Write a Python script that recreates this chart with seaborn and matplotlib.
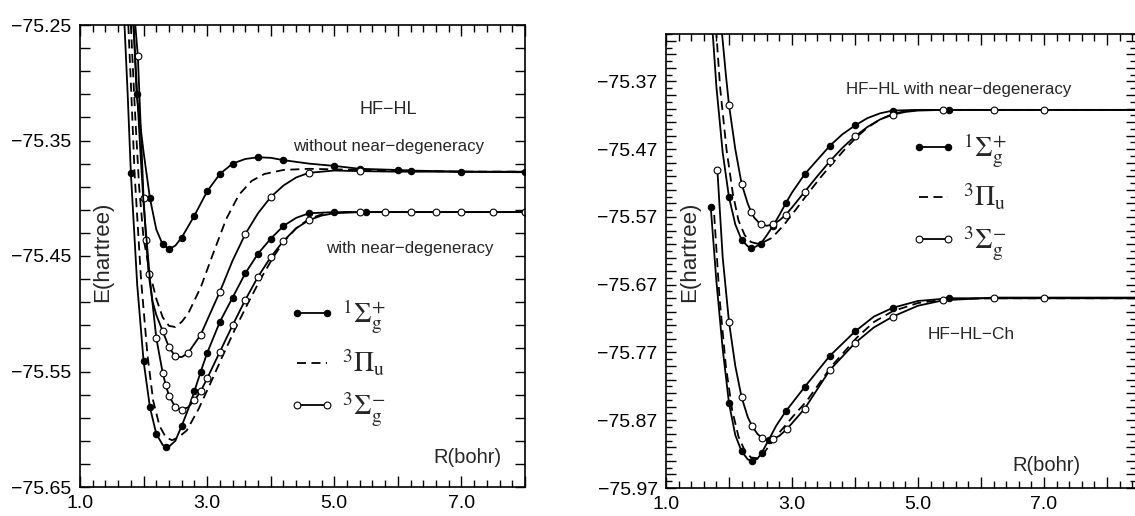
import matplotlib
matplotlib.use("Agg")
import numpy as np
import matplotlib.pyplot as plt
from matplotlib.lines import Line2D
from matplotlib.ticker import FixedLocator, FuncFormatter
import seaborn as sns

# ---------------- data (R in bohr, E in hartree) ----------------
# HF-HL without near-degeneracy
r_s1_a = [1.845, 1.89, 2.0, 2.1, 2.2, 2.3, 2.4, 2.5, 2.6, 2.8, 3.0, 3.2, 3.4, 3.6, 3.8, 4.0, 4.2, 4.6, 5.0, 5.4, 6.0, 6.2, 7.0, 8.0]
e_s1_a = [-75.25, -75.31, -75.36, -75.40, -75.427, -75.440, -75.444, -75.441, -75.434, -75.415, -75.394, -75.379, -75.370,
          -75.366, -75.3645, -75.365, -75.367, -75.370, -75.372, -75.3745, -75.3755, -75.376, -75.377, -75.3775]
m_s1_a = [1.89, 2.1, 2.3, 2.4, 2.6, 2.8, 3.0, 3.2, 3.4, 3.8, 4.2, 5.0, 5.4, 6.0, 6.2, 7.0, 8.0]

r_p_a = [1.80, 1.86, 1.93, 2.0, 2.1, 2.2, 2.3, 2.4, 2.5, 2.6, 2.7, 2.9, 3.1, 3.3, 3.5, 3.7, 3.9, 4.2, 4.6, 5.0, 6.0, 7.0, 8.0]
e_p_a = [-75.25, -75.32, -75.39, -75.435, -75.465, -75.487, -75.503, -75.5105, -75.5115, -75.507, -75.500, -75.477,
         -75.447, -75.418, -75.397, -75.385, -75.379, -75.3755, -75.3745, -75.375, -75.376, -75.377, -75.377]

r_s3_a = [1.87, 1.91, 1.96, 2.0, 2.04, 2.08, 2.14, 2.2, 2.3, 2.4, 2.5, 2.6, 2.7, 2.9, 3.2, 3.4, 3.6, 3.8, 4.0, 4.2, 4.4,
          4.6, 5.0, 5.4, 6.0, 7.0, 8.0]
e_s3_a = [-75.25, -75.277, -75.345, -75.40, -75.436, -75.466, -75.489, -75.501, -75.515, -75.529, -75.537, -75.5375,
          -75.534, -75.518, -75.481, -75.454, -75.431, -75.413, -75.399, -75.389, -75.382, -75.378, -75.376, -75.3765,
          -75.377, -75.377, -75.377]
m_s3_a = [1.91, 2.0, 2.04, 2.08, 2.3, 2.4, 2.5, 2.7, 2.9, 3.2, 3.6, 4.0, 4.6, 5.4]

# HF-HL with near-degeneracy (both panels)
r_s1_b = [1.70, 1.75, 1.80, 1.90, 2.0, 2.1, 2.2, 2.3, 2.35, 2.4, 2.5, 2.6, 2.7, 2.8, 2.9, 3.0, 3.2, 3.4, 3.6, 3.8, 4.0,
          4.2, 4.4, 4.6, 5.0, 5.5, 6.2, 7.0, 8.0, 8.5]
e_s1_b = [-75.25, -75.31, -75.378, -75.475, -75.541, -75.581, -75.604, -75.6135, -75.6155, -75.615, -75.610, -75.597,
          -75.583, -75.567, -75.550, -75.534, -75.507, -75.486, -75.465, -75.448, -75.435, -75.424, -75.417, -75.413,
          -75.412, -75.412, -75.412, -75.412, -75.412, -75.412]
m_s1_b_left = [1.80, 2.0, 2.1, 2.2, 2.35, 2.6, 2.8, 2.9, 3.0, 3.2, 3.4, 3.6, 3.8, 4.0, 4.2, 4.6, 5.0, 5.5, 8.0]
m_s1_b_right = [2.0, 2.2, 2.35, 2.5, 2.7, 2.9, 3.2, 3.6, 4.0, 4.6, 5.5]

r_p_b = [1.76, 1.80, 1.86, 1.96, 2.06, 2.15, 2.25, 2.35, 2.45, 2.55, 2.68, 2.87, 3.07, 3.24, 3.45, 3.65, 3.84, 4.04,
         4.2, 4.4, 4.6, 4.8, 5.0, 6.0, 7.0, 8.0, 8.5]
e_p_b = [-75.25, -75.30, -75.38, -75.47, -75.535, -75.575, -75.597, -75.607, -75.6095, -75.607, -75.601, -75.582,
         -75.558, -75.537, -75.512, -75.490, -75.470, -75.451, -75.438, -75.426, -75.418, -75.414, -75.412, -75.412,
         -75.412, -75.412, -75.412]

r_s3_b = [1.84, 1.89, 1.95, 2.0, 2.1, 2.2, 2.3, 2.35, 2.4, 2.5, 2.6, 2.7, 2.8, 2.9, 3.0, 3.2, 3.4, 3.6, 3.8, 4.0, 4.2,
          4.4, 4.6, 4.8, 5.0, 5.4, 5.8, 6.2, 6.6, 7.0, 7.5, 8.0, 8.5]
e_s3_b = [-75.25, -75.30, -75.36, -75.405, -75.47, -75.521, -75.551, -75.562, -75.571, -75.581, -75.583, -75.581,
          -75.575, -75.567, -75.556, -75.533, -75.510, -75.488, -75.468, -75.451, -75.437, -75.426, -75.419, -75.415,
          -75.413, -75.412, -75.412, -75.412, -75.412, -75.412, -75.412, -75.412, -75.412]
m_s3_b_left = [2.2, 2.3, 2.35, 2.4, 2.5, 2.6, 2.8, 2.9, 3.0, 3.2, 3.4, 3.6, 3.8, 4.0, 4.2, 4.6, 5.4, 5.8, 6.2, 6.6,
               7.0, 7.5, 8.0]
m_s3_b_right = [2.0, 2.2, 2.35, 2.5, 2.7, 2.9, 3.2, 3.6, 4.0, 4.6, 5.4, 6.2, 7.0]

# HF-HL-Ch
r_s1_c = [1.71, 1.8, 1.9, 2.0, 2.1, 2.2, 2.3, 2.37, 2.45, 2.52, 2.63, 2.75, 2.9, 3.2, 3.6, 4.0, 4.3, 4.6, 5.0, 5.5,
          6.2, 7.0, 8.0, 8.5]
e_s1_c = [-75.555, -75.665, -75.765, -75.845, -75.892, -75.916, -75.928, -75.930, -75.927, -75.918, -75.899, -75.878,
          -75.857, -75.821, -75.775, -75.739, -75.717, -75.704, -75.694, -75.690, -75.690, -75.690, -75.690, -75.690]
m_s1_c = [1.71, 2.0, 2.2, 2.37, 2.52, 2.63, 2.9, 3.2, 3.6, 4.0, 4.6, 5.5]

r_p_c = [1.765, 1.85, 1.95, 2.05, 2.15, 2.25, 2.35, 2.45, 2.55, 2.65, 2.8, 3.0, 3.23, 3.63, 4.03, 4.3, 4.6, 5.0, 5.5,
         6.2, 8.0, 8.5]
e_p_c = [-75.567, -75.69, -75.79, -75.855, -75.894, -75.915, -75.925, -75.926, -75.919, -75.906, -75.888, -75.866,
         -75.842, -75.790, -75.748, -75.725, -75.709, -75.697, -75.691, -75.690, -75.690, -75.690]

r_s3_c = [1.815, 1.9, 2.0, 2.1, 2.2, 2.3, 2.37, 2.45, 2.52, 2.6, 2.7, 2.8, 2.92, 3.2, 3.6, 4.0, 4.3, 4.6, 5.0, 5.4,
          6.2, 7.0, 8.0, 8.5]
e_s3_c = [-75.50, -75.63, -75.725, -75.79, -75.836, -75.866, -75.879, -75.890, -75.896, -75.898, -75.898, -75.893,
          -75.883, -75.853, -75.796, -75.756, -75.733, -75.717, -75.701, -75.693, -75.689, -75.689, -75.689, -75.689]
m_s3_c = [1.815, 2.0, 2.2, 2.37, 2.52, 2.7, 2.92, 3.2, 3.6, 4.0, 4.6, 5.4, 6.2, 7.0]

left_yticks = [-75.25, -75.35, -75.45, -75.55, -75.65]
right_yticks = [-75.37, -75.47, -75.57, -75.67, -75.77, -75.87, -75.97]
xtick_labels = [1.0, 3.0, 5.0, 7.0]
state_labels = [r"$^{1}\Sigma_{\mathrm{g}}^{+}$", r"$^{3}\Pi_{\mathrm{u}}$", r"$^{3}\Sigma_{\mathrm{g}}^{-}$"]

# ---------------- style ----------------
sns.set_style("ticks")
plt.rcParams["font.family"] = ["Liberation Sans", "DejaVu Sans"]
plt.rcParams["mathtext.fontset"] = "stix"
plt.rcParams["axes.unicode_minus"] = True

LW = 1.3
NOTE_FS = 12.2
filled = dict(marker="o", ms=4.6, mfc="black", mec="black", mew=0.8)
opened = dict(marker="o", ms=4.9, mfc="white", mec="black", mew=0.8)


def curve(ax, r, e, marks=None, dashed=False, style=None):
    kw = dict(color="black", lw=LW)
    if dashed:
        kw["ls"] = (0, (5, 3))
    if marks:
        kw.update(style)
        kw["markevery"] = [r.index(m) for m in marks]
    sns.lineplot(x=r, y=e, ax=ax, sort=False, estimator=None, **kw)


def frame(ax, xmax, ylim, yticks, ystep, nfmt):
    ax.set_xlim(1.0, xmax)
    ax.set_ylim(*ylim)
    ax.xaxis.set_major_locator(FixedLocator(np.arange(1.0, xmax + 0.01, 1.0)))
    ax.xaxis.set_minor_locator(FixedLocator(np.arange(1.0, xmax + 0.01, 0.2)))
    ax.xaxis.set_major_formatter(FuncFormatter(
        lambda v, p: f"{v:.1f}" if any(abs(v - t) < 1e-6 for t in xtick_labels) else ""))
    ymaj = np.round(np.arange(ylim[0], ylim[1] + 1e-6, ystep), 3)
    ax.yaxis.set_major_locator(FixedLocator(ymaj))
    ax.yaxis.set_major_formatter(FuncFormatter(
        lambda v, p: f"{v:.2f}".replace("-", "\u2212") if any(abs(v - t) < 1e-6 for t in yticks) else ""))
    if nfmt:
        ax.yaxis.set_minor_locator(FixedLocator(np.round(np.arange(ylim[0], ylim[1] + 1e-6, nfmt), 3)))
    ax.tick_params(which="both", direction="in", top=True, right=True, width=1.0, labelsize=14, colors="black")
    ax.tick_params(axis="x", which="major", length=8, pad=6)
    ax.tick_params(axis="x", which="minor", length=5)
    ax.tick_params(axis="y", which="major", length=7, pad=6)
    ax.tick_params(axis="y", which="minor", length=4)
    for s in ax.spines.values():
        s.set_linewidth(1.2)
        s.set_color("black")
    ax.set_xlabel("")
    ax.set_ylabel("")


def legend(ax, x, y):
    handles = [Line2D([], [], color="black", lw=LW, **filled),
               Line2D([], [], color="black", lw=LW, ls=(0, (5, 3))),
               Line2D([], [], color="black", lw=LW, **opened)]
    ax.legend(handles, state_labels, loc="upper left", bbox_to_anchor=(x, y), frameon=False, numpoints=2,
              handlelength=1.65, handletextpad=0.25, labelspacing=0.42, fontsize=20, borderpad=0, borderaxespad=0)


def note(ax, x, y, s, fs=NOTE_FS, **kw):
    ax.text(x, y, s, transform=ax.transAxes, ha="center", va="center", fontsize=fs, **kw)


fig = plt.figure(figsize=(11.35, 5.16), dpi=100)
W, H = 1135, 516
ax1 = fig.add_axes([80 / W, (H - 487) / H, 445 / W, 462 / H])
ax2 = fig.add_axes([666 / W, (H - 488) / H, 470 / W, 454 / H])

# ---------------- left panel ----------------
curve(ax1, r_s1_a, e_s1_a, m_s1_a, style=filled)
curve(ax1, r_p_a, e_p_a, dashed=True)
curve(ax1, r_s3_a, e_s3_a, m_s3_a, style=opened)
curve(ax1, r_s1_b, e_s1_b, m_s1_b_left, style=filled)
curve(ax1, r_p_b, e_p_b, dashed=True)
curve(ax1, r_s3_b, e_s3_b, m_s3_b_left, style=opened)
frame(ax1, 8.0, (-75.65, -75.25), left_yticks, 0.02, None)

note(ax1, 0.693, 0.818, "HF\u2212HL", fs=13)
note(ax1, 0.693, 0.738, "without near\u2212degeneracy")
note(ax1, 0.741, 0.517, "with near\u2212degeneracy")
note(ax1, 0.87, 0.063, "R(bohr)", fs=14.5)
note(ax1, 0.05, 0.51, "E(hartree)", fs=16, rotation=90)
legend(ax1, 0.47, 0.41)

# ---------------- right panel ----------------
curve(ax2, r_s1_b, e_s1_b, m_s1_b_right, style=filled)
curve(ax2, r_p_b, e_p_b, dashed=True)
curve(ax2, r_s3_b, e_s3_b, m_s3_b_right, style=opened)
curve(ax2, r_s1_c, e_s1_c, m_s1_c, style=filled)
curve(ax2, r_p_c, e_p_c, dashed=True)
curve(ax2, r_s3_c, e_s3_c, m_s3_c, style=opened)
frame(ax2, 1.0 + 470 / 63.0, (-75.97, -75.30), right_yticks, 0.02, 0.01)

note(ax2, 0.622, 0.877, "HF\u2212HL with near\u2212degeneracy")
note(ax2, 0.649, 0.339, "HF\u2212HL\u2212Ch", fs=12.4)
note(ax2, 0.81, 0.05, "R(bohr)", fs=14.5)
note(ax2, 0.05, 0.52, "E(hartree)", fs=16, rotation=90)
legend(ax2, 0.52, 0.785)

fig.savefig("out.png", dpi=100)
